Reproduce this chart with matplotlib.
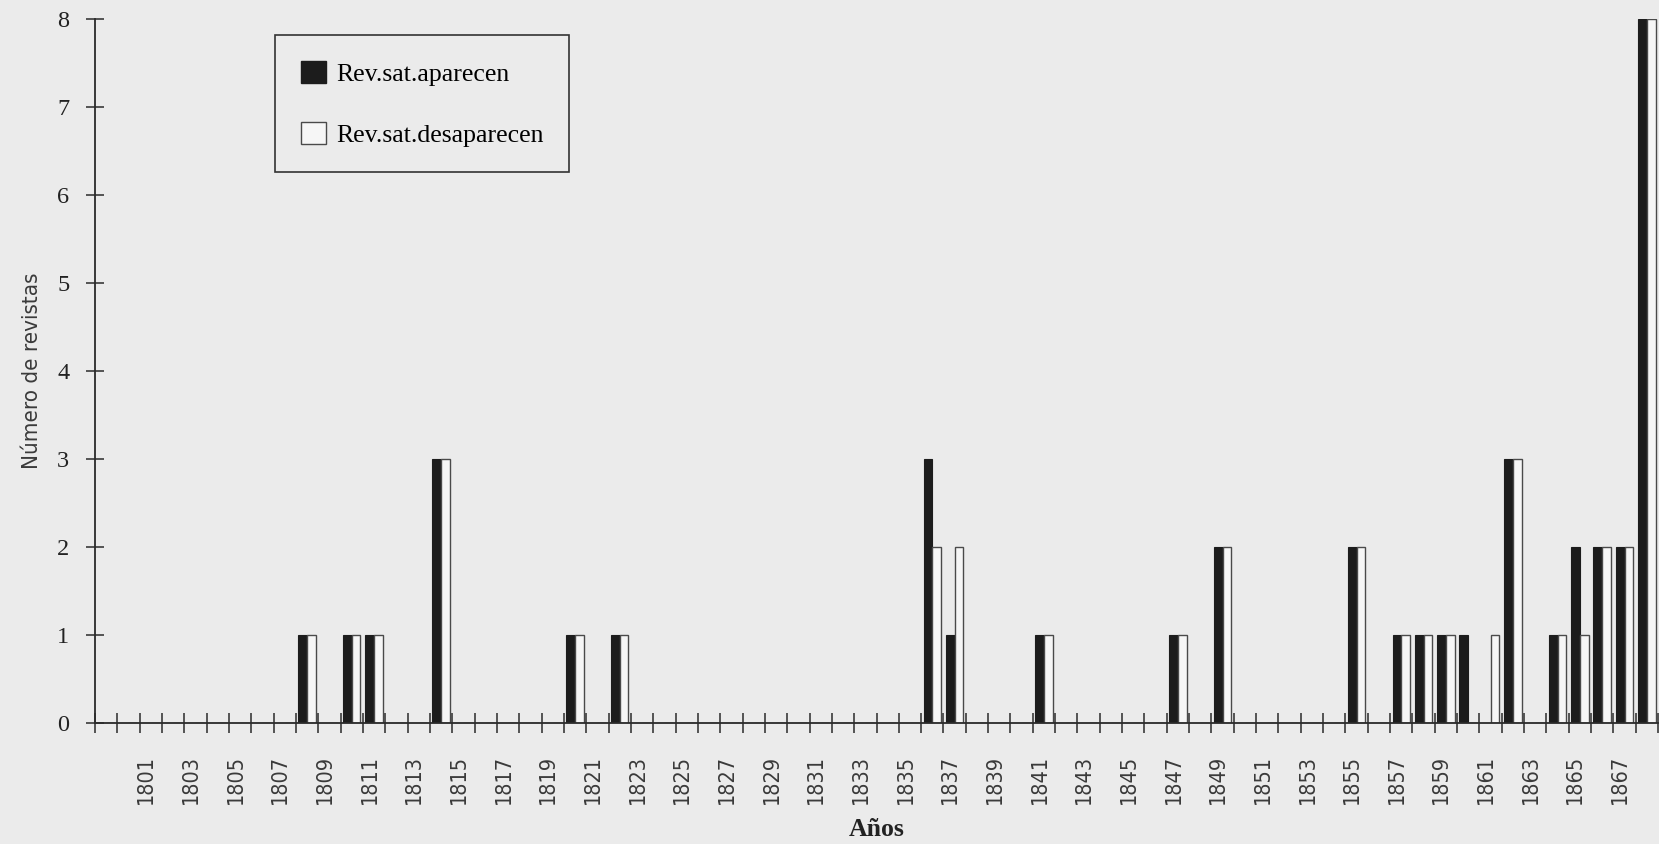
import matplotlib
matplotlib.use('Agg')
import matplotlib.pyplot as plt
from matplotlib import font_manager as fm
from matplotlib.patches import Patch
import numpy as np

# ---------------- data ----------------
years = list(range(1799, 1869))
aparecen = [
    0, 0, 0, 0, 0, 0, 0, 0, 0, 1,   # 1799-1808
    0, 1, 1, 0, 0, 3, 0, 0, 0, 0,   # 1809-1818
    0, 1, 0, 1, 0, 0, 0, 0, 0, 0,   # 1819-1828
    0, 0, 0, 0, 0, 0, 0, 3, 1, 0,   # 1829-1838
    0, 0, 1, 0, 0, 0, 0, 0, 1, 0,   # 1839-1848
    2, 0, 0, 0, 0, 0, 2, 0, 1, 1,   # 1849-1858
    1, 1, 0, 3, 0, 1, 2, 2, 2, 8]   # 1859-1868
desaparecen = [
    0, 0, 0, 0, 0, 0, 0, 0, 0, 1,   # 1799-1808
    0, 1, 1, 0, 0, 3, 0, 0, 0, 0,   # 1809-1818
    0, 1, 0, 1, 0, 0, 0, 0, 0, 0,   # 1819-1828
    0, 0, 0, 0, 0, 0, 0, 2, 2, 0,   # 1829-1838
    0, 0, 1, 0, 0, 0, 0, 0, 1, 0,   # 1839-1848
    2, 0, 0, 0, 0, 0, 2, 0, 1, 1,   # 1849-1858
    1, 0, 1, 3, 0, 1, 1, 2, 2, 8]   # 1859-1868
tick_years = list(range(1801, 1868, 2))
series_names = ["Rev.sat.aparecen", "Rev.sat.desaparecen"]
y_ticks = list(range(0, 9))

# ---------------- fonts ----------------
names = {f.name for f in fm.fontManager.ttflist}
if 'Liberation Sans Narrow' in names:
    narrow = fm.FontProperties(family='Liberation Sans Narrow')
else:
    narrow = fm.FontProperties(family='DejaVu Sans', stretch='condensed')
serif = 'Liberation Serif'

BG = '#ebebeb'
DARK = '#1c1c1c'
LINE = '#2a2a2a'

fig = plt.figure(figsize=(16.59, 8.44), dpi=100, facecolor=BG)
ax = fig.add_axes([95 / 1659, 1 - 723 / 844, 1563 / 1659, 704 / 844])
ax.set_facecolor('none')

x = np.array(years, dtype=float)
w = 0.39
ax.bar(x - w / 2, aparecen, width=w, color=DARK, edgecolor=DARK, linewidth=0.8, zorder=3)
ax.bar(x + w / 2, desaparecen, width=w, facecolor='#f6f6f6', edgecolor='#4a4a4a', linewidth=1.0, zorder=3)

ax.set_xlim(years[0] - 0.5, years[-1] + 0.5)
ax.set_ylim(0, 8)

for s in ['top', 'right']:
    ax.spines[s].set_visible(False)
for s in ['left', 'bottom']:
    ax.spines[s].set_color(LINE)
    ax.spines[s].set_linewidth(1.3)
    ax.spines[s].set_zorder(4)

# tick marks at every category boundary (minor), labels on odd years (major, no mark)
bounds = np.arange(years[0] - 0.5, years[-1] + 1.0, 1.0)
ax.set_xticks(bounds, minor=True)
ax.set_xticks([yv - 0.5 + 0.3 for yv in tick_years])
ax.set_xticklabels([str(yv) for yv in tick_years], rotation=90, fontproperties=narrow,
                   fontsize=15.5, color='#3a3a3a')
ax.tick_params(axis='x', which='minor', direction='inout', length=14.4, width=1.1, color=LINE)
ax.tick_params(axis='x', which='major', length=0, pad=23)

ax.set_yticks(y_ticks)
ax.set_yticklabels([str(v) for v in y_ticks], family=serif, fontsize=17.5, color='#222222')
ax.tick_params(axis='y', direction='inout', length=13, width=1.1, color=LINE, pad=12)

ax.set_ylabel('Número de revistas', fontproperties=narrow, fontsize=16, color='#3a3a3a')
ax.yaxis.set_label_coords(-0.034, 0.5)
ax.set_xlabel('Años', family=serif, fontweight='bold', fontsize=18.5, color='#222222')
ax.xaxis.set_label_coords(0.5, -0.135)

handles = [Patch(facecolor=DARK, edgecolor=DARK),
           Patch(facecolor='#f6f6f6', edgecolor='#4a4a4a', linewidth=1.0)]
leg = ax.legend(handles, series_names, loc='upper left',
                bbox_to_anchor=(275 / 1659, 1 - 35 / 844), bbox_transform=fig.transFigure,
                borderaxespad=0, prop=fm.FontProperties(family=serif, size=18.5),
                handlelength=0.97, handleheight=0.97, handletextpad=0.4,
                labelspacing=1.4, borderpad=1.0, fancybox=False, framealpha=1)
leg.get_frame().set_facecolor(BG)
leg.get_frame().set_edgecolor('#333333')
leg.get_frame().set_linewidth(1.2)

fig.savefig('out.png', dpi=100, facecolor=BG)
